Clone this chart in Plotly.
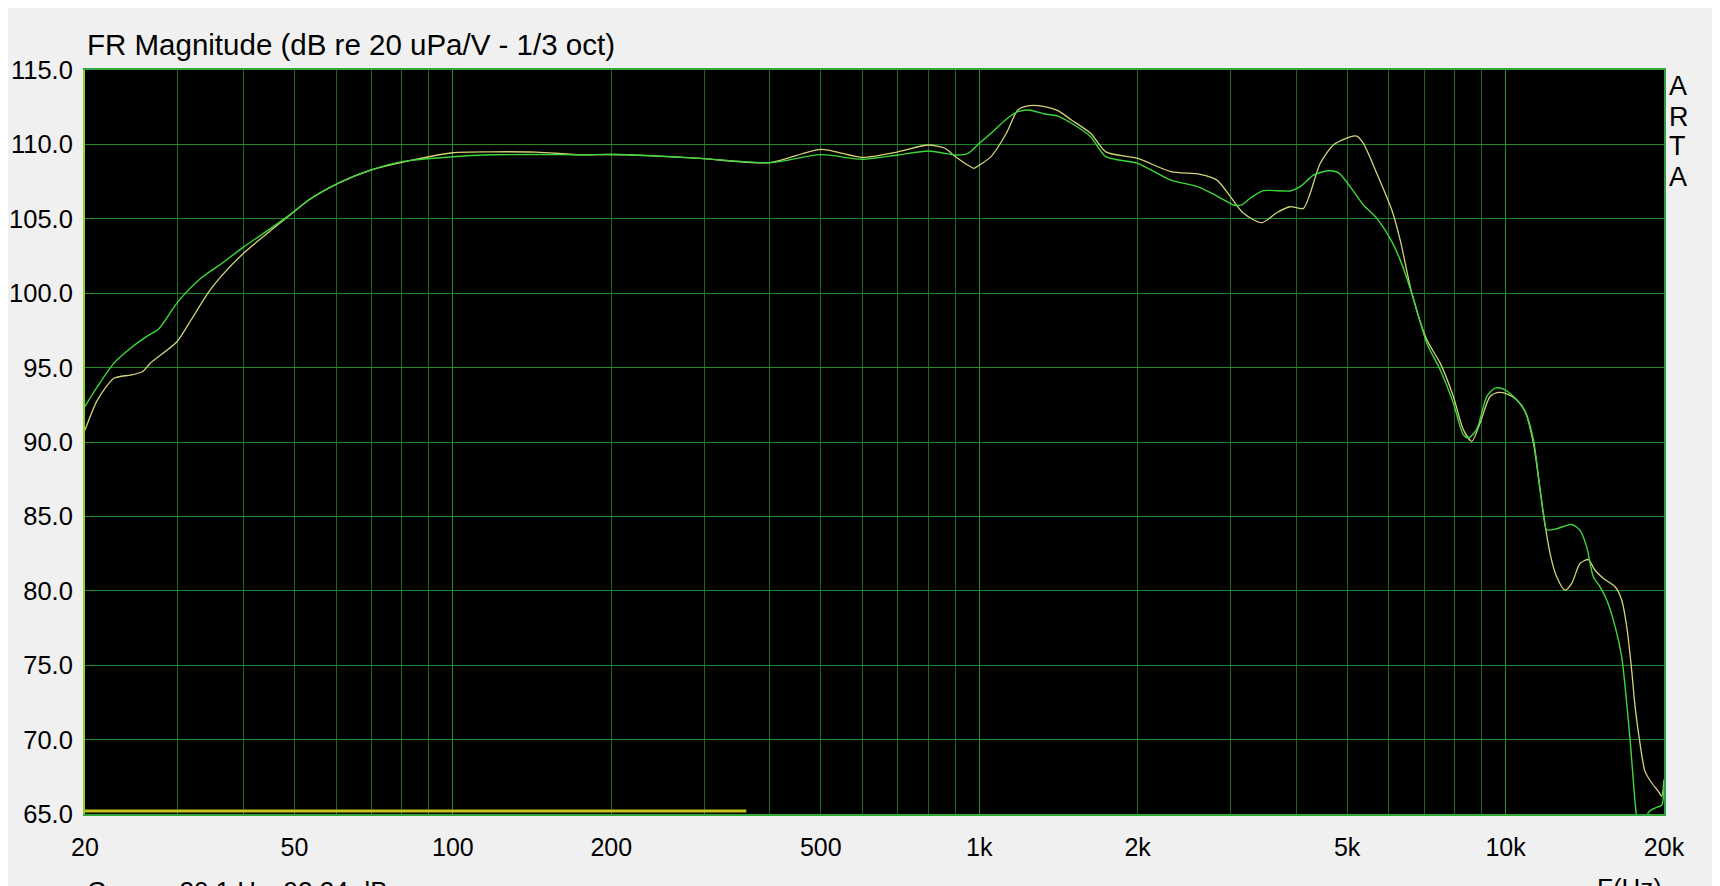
import plotly.graph_objects as go
import math

# ---- data ----
freq_g = [20, 21.1, 22.7, 24.4, 26.2, 27.6, 30, 33.2, 36.7, 40, 44, 50, 53.2, 60.9, 69.9, 80,
          100, 118, 144, 175, 200, 234, 295, 400, 500, 600, 700, 800, 861, 900, 952, 1000,
          1053, 1126, 1184, 1245, 1331, 1411, 1497, 1628, 1740, 2000, 2313, 2600, 2829, 3042,
          3150, 3271, 3468, 3897, 4071, 4316, 4607, 4812, 5066, 5369, 5694, 6080, 6306, 6636,
          7087, 7513, 7958, 8313, 8500, 8810, 9213, 9550, 9905, 10350, 10890, 11296, 11630,
          11800, 11970, 12505, 13356, 13850, 14260, 14680, 15120, 15570, 16150, 16620, 16870,
          17240, 17700, 18200, 18670, 19230, 19800, 20000]
db_g = [92.4, 93.7, 95.3, 96.3, 97.1, 97.6, 99.4, 101.0, 102.1, 103.1, 104.1, 105.5, 106.26,
        107.43, 108.28, 108.84, 109.17, 109.3, 109.32, 109.3, 109.32, 109.25, 109.06, 108.77,
        109.31, 109.0, 109.29, 109.56, 109.4, 109.29, 109.4, 110.07, 110.75, 111.69, 112.2,
        112.31, 112.04, 111.9, 111.42, 110.52, 109.18, 108.73, 107.6, 107.16, 106.53, 105.93,
        105.93, 106.38, 106.89, 106.87, 107.16, 107.94, 108.23, 108.1, 107.16, 105.93, 105.03,
        103.47, 102.24, 100.0, 96.64, 94.85, 92.62, 90.49, 90.27, 90.83, 93.06, 93.62, 93.55,
        93.06, 92.06, 90.16, 86.8, 85.18, 84.1, 84.17, 84.46, 84.06, 82.95, 80.94, 80.27, 79.38,
        77.59, 75.58, 73.57, 70.0, 65.1, 62.0, 65.1, 65.4, 65.6, 67.3]

freq_y = [20, 21.1, 22.7, 24.4, 25.7, 26.6, 29.9, 31.8, 34.4, 36.2, 40, 45, 50, 53.2, 60.9,
          69.9, 80, 100, 118, 144, 175, 200, 234, 295, 400, 500, 600, 700, 800, 861, 900, 952,
          977, 1000, 1053, 1126, 1184, 1245, 1331, 1411, 1497, 1628, 1740, 2000, 2313, 2628,
          2829, 3000, 3177, 3443, 3675, 3897, 4130, 4253, 4443, 4709, 5066, 5216, 5369, 5694,
          6080, 6306, 6636, 7087, 7513, 7958, 8313, 8625, 8945, 9344, 9690, 10050, 10500,
          10890, 11296, 11630, 11800, 12150, 12505, 12970, 13356, 13850, 14360, 14790, 15350,
          16150, 16620, 16990, 17360, 17620, 18000, 18400, 18940, 19500, 19800, 20000]
db_y = [90.8, 92.8, 94.28, 94.5, 94.72, 95.29, 96.74, 98.2, 100.1, 101.1, 102.68, 104.2, 105.5,
        106.26, 107.43, 108.28, 108.8, 109.44, 109.5, 109.48, 109.3, 109.32, 109.25, 109.06,
        108.77, 109.67, 109.13, 109.5, 109.96, 109.74, 109.18, 108.6, 108.39, 108.6, 109.18,
        110.75, 112.31, 112.6, 112.54, 112.27, 111.64, 110.75, 109.5, 109.06, 108.17, 107.99,
        107.6, 106.49, 105.37, 104.74, 105.41, 105.81, 105.7, 106.7, 108.72, 109.96, 110.51,
        110.56, 110.07, 108.05, 105.59, 103.58, 100.0, 96.87, 95.3, 93.06, 90.83, 90.04, 91.27,
        93.06, 93.33, 93.24, 92.84, 92.06, 89.93, 86.8, 85.18, 82.5, 80.94, 80.04, 80.5, 81.83,
        82.1, 81.38, 80.83, 80.27, 79.38, 77.59, 74.69, 72.23, 69.78, 67.88, 67.1, 66.54, 66.2,
        67.3]

ref_freq = [20, 361]
ref_db = [65.2, 65.2]

x_major = [20, 50, 100, 200, 500, 1000, 2000, 5000, 10000, 20000]
x_major_text = ["20", "50", "100", "200", "500", "1k", "2k", "5k", "10k", "20k"]
x_minor = [m * d for d in (10, 100, 1000, 10000) for m in range(1, 10) if 20 <= m * d <= 20000]
x_decades = [100, 1000, 10000]
y_ticks = [65, 70, 75, 80, 85, 90, 95, 100, 105, 110, 115]

title_text = "FR Magnitude (dB re 20 uPa/V - 1/3 oct)"
cursor_text = "Cursor: 20.1 Hz, 92.34 dB"

# ---- figure (page has an 8px body margin) ----
W, H = 1712, 878
L, R, T, B = 77, 56, 62, 72
PLOT_TOP, PLOT_BOTTOM = 70, 814          # page pixels
FONT = "Liberation Sans, Arial, sans-serif"

def ypx(py):
    return (PLOT_BOTTOM - py) / (PLOT_BOTTOM - PLOT_TOP)

fig = go.Figure()
fig.add_trace(go.Scatter(x=ref_freq, y=ref_db, mode="lines",
                         line=dict(color="#c4c41c", width=3), hoverinfo="skip"))
fig.add_trace(go.Scatter(x=freq_y, y=db_y, mode="lines",
                         line=dict(color="#d2d278", width=1.3, shape="spline", smoothing=0.7)))
fig.add_trace(go.Scatter(x=freq_g, y=db_g, mode="lines",
                         line=dict(color="#3cd83c", width=1.4, shape="spline", smoothing=0.7)))
fig.add_trace(go.Scatter(x=[], y=[], xaxis="x2", yaxis="y2"))

xr = [math.log10(20), math.log10(20000)]
tickvals = x_minor
ticktext = [x_major_text[x_major.index(v)] if v in x_major else "" for v in x_minor]

fig.update_layout(
    width=W, height=H,
    margin=dict(l=L, r=R, t=T, b=B, autoexpand=False),
    paper_bgcolor="#f0f0f0", plot_bgcolor="#000000",
    showlegend=False,
    font=dict(family=FONT, color="#000000", size=26),
    xaxis=dict(type="log", range=xr, tickvals=tickvals, ticktext=ticktext,
               showgrid=True, gridcolor="#176a1f", gridwidth=1, automargin=False,
               zeroline=False, showline=True, linecolor="#2fa83a", linewidth=2, mirror=True,
               ticks="", ticklabelstandoff=10, tickfont=dict(size=25)),
    xaxis2=dict(type="log", range=xr, overlaying="x", tickvals=x_decades, automargin=False,
                showticklabels=False, showgrid=True, gridcolor="#22902a", gridwidth=1,
                zeroline=False, showline=False, ticks=""),
    yaxis=dict(range=[65, 115], tickvals=y_ticks, tickformat=".1f", automargin=False,
               showgrid=True, gridcolor="#1f8a25", gridwidth=1, zeroline=False,
               showline=True, linecolor="#8ad42a", linewidth=2, mirror=False,
               ticks="", ticklabelstandoff=5, tickfont=dict(size=25.5)),
    yaxis2=dict(range=[65, 115], overlaying="y", side="right", showticklabels=False,
                showgrid=False, zeroline=False, showline=True, linecolor="#2f9a4a",
                linewidth=2, ticks="", automargin=False),
)

annotations = [
    dict(text=title_text, xref="paper", yref="paper", x=0, xshift=0, y=ypx(63),
         xanchor="left", yanchor="bottom", showarrow=False, font=dict(size=29.5)),
    dict(text=cursor_text, xref="paper", yref="paper", x=0, y=ypx(874),
         xanchor="left", yanchor="top", showarrow=False, font=dict(size=26)),
    dict(text="F(Hz)", xref="paper", yref="paper", x=1, y=ypx(871),
         xanchor="right", yanchor="top", showarrow=False, font=dict(size=26)),
]
for letter, cy in zip(["A", "R", "T", "A"], [86, 116.5, 146.5, 176.5]):
    annotations.append(dict(text=letter, xref="paper", yref="paper", x=1, xshift=3,
                            y=ypx(cy), xanchor="left", yanchor="middle", showarrow=False,
                            font=dict(size=27)))
fig.update_layout(annotations=annotations)

fig.write_html("out.html")
